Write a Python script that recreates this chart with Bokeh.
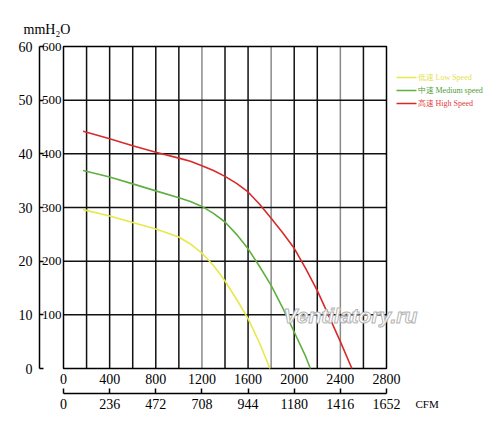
from bokeh.plotting import figure
from bokeh.models import (LinearAxis, FixedTicker, Label, Arrow, Range1d)
from bokeh.embed import file_html
from bokeh.resources import INLINE

# ---- data ----
high_cfm = [170, 400, 600, 800, 1000, 1100, 1200, 1300, 1400, 1500, 1600, 1700, 1800, 1900, 2000, 2100, 2200, 2300, 2400, 2500]
high_p   = [442, 428, 415, 403, 392, 386, 378, 369, 358, 345, 329, 306, 280, 253, 224, 186, 145, 98, 50, 0]

med_cfm = [170, 400, 600, 800, 1000, 1100, 1200, 1300, 1400, 1500, 1600, 1700, 1800, 1900, 2000, 2100, 2140]
med_p   = [369, 357, 344, 331, 318, 311, 302, 289, 273, 250, 223, 190, 155, 113, 68, 22, 0]

low_cfm = [170, 400, 600, 800, 1000, 1100, 1200, 1300, 1350, 1400, 1500, 1600, 1700, 1790]
low_p   = [296, 284, 272, 260, 245, 232, 215, 192, 178, 163, 129, 93, 47, 0]

cfm_ticks = [0, 400, 800, 1200, 1600, 2000, 2400, 2800]
m3h_labels = ["0", "236", "472", "708", "944", "1180", "1416", "1652"]
pa_ticks = [100, 200, 300, 400, 500, 600]
mm_ticks = [0, 100, 200, 300, 400, 500, 600]
mm_labels = ["0", "10", "20", "30", "40", "50", "60"]
grid_black_x = [200, 400, 600, 800, 1000, 1400, 1600, 2000, 2200, 2600]
grid_gray_x = [1200, 1800, 2400]
grid_y = [100, 200, 300, 400, 500]
x_max, y_max = 2800, 600

series_names = ["低速 Low Speed", "中速 Medium speed", "高速 High Speed"]
series_colors = ["#e8e84a", "#5fb040", "#d82a2a"]
text_colors = ["#e2e24a", "#4f9e34", "#e03a3a"]

FONT = "Liberation Serif"

# ---- layout helpers (canvas pixel -> data coordinate) ----
W, H = 484, 415
X0PX, Y0PX = 63, 368                       # where 0/0 sits on the canvas
KX = 323 / 2800.0                          # px per CFM
KY = 322 / 600.0                           # px per Pa


def X(px):
    return (px - X0PX) / KX


def Y(py):
    return (Y0PX - py) / KY


p = figure(width=W, height=H, output_backend="svg", toolbar_location=None,
           x_range=Range1d(X(0), X(W)), y_range=Range1d(Y(H), Y(0)),
           x_axis_location=None, y_axis_location=None,
           min_border_left=0, min_border_right=0, min_border_top=0, min_border_bottom=0)
p.outline_line_color = None
p.background_fill_color = "white"
p.border_fill_color = "white"
p.xgrid.visible = False
p.ygrid.visible = False

# grid and chart box
p.segment(x0=grid_black_x, x1=grid_black_x, y0=0, y1=y_max, line_color="#111111", line_width=1.5)
p.segment(x0=grid_gray_x, x1=grid_gray_x, y0=0, y1=y_max, line_color="#8a8a8a", line_width=1.5)
p.segment(x0=0, x1=x_max, y0=grid_y, y1=grid_y, line_color="#111111", line_width=1.5)
p.quad(left=0, right=x_max, bottom=0, top=y_max, fill_color=None, line_color="black", line_width=1.5)

# curves
p.line(low_cfm, low_p, line_color=series_colors[0], line_width=1.6, line_join="round")
p.line(med_cfm, med_p, line_color=series_colors[1], line_width=1.6, line_join="round")
p.line(high_cfm, high_p, line_color=series_colors[2], line_width=1.6, line_join="round")

# left axes (Pa inside, mmH2O outside)
axA = LinearAxis(ticker=FixedTicker(ticks=pa_ticks), fixed_location=0,
                 axis_line_color=None, major_tick_line_color=None, minor_tick_line_color=None,
                 major_tick_in=0, major_tick_out=0,
                 major_label_standoff=2, major_label_text_font=FONT,
                 major_label_text_font_size="13px", major_label_text_color="black")
axB = LinearAxis(ticker=FixedTicker(ticks=mm_ticks), fixed_location=X(39), bounds=(0, y_max),
                 major_label_overrides={t: l for t, l in zip(mm_ticks, mm_labels)},
                 axis_line_color="black", axis_line_width=1.5,
                 major_tick_line_color="black", major_tick_line_width=1.5,
                 major_tick_in=4, major_tick_out=0, minor_tick_line_color=None,
                 major_label_standoff=7, major_label_text_font=FONT,
                 major_label_text_font_size="14px", major_label_text_color="black")
p.add_layout(axA, "left")
p.add_layout(axB, "left")

# bottom axes (CFM scale above, m3/h scale below)
axC = LinearAxis(ticker=FixedTicker(ticks=cfm_ticks), fixed_location=0,
                 axis_line_color=None, major_tick_line_color=None, minor_tick_line_color=None,
                 major_tick_in=0, major_tick_out=0,
                 major_label_standoff=5, major_label_text_font=FONT,
                 major_label_text_font_size="14px", major_label_text_color="black")
axD = LinearAxis(ticker=FixedTicker(ticks=cfm_ticks), fixed_location=Y(393), bounds=(0, x_max),
                 major_label_overrides={t: l for t, l in zip(cfm_ticks, m3h_labels)},
                 axis_line_color="black", axis_line_width=1.5,
                 major_tick_line_color="black", major_tick_line_width=1.5,
                 major_tick_in=5, major_tick_out=0, minor_tick_line_color=None,
                 major_label_standoff=5, major_label_text_font=FONT,
                 major_label_text_font_size="14px", major_label_text_color="black")
p.add_layout(axC, "below")
p.add_layout(axD, "below")

# unit labels
p.add_layout(Label(x=X(23), y=Y(29), text="mmH₂O", text_font=FONT, text_font_size="14px",
                   text_baseline="alphabetic", text_color="black"))
p.add_layout(Label(x=X(415), y=Y(403), text="CFM", text_font=FONT, text_font_size="11px",
                   text_baseline="middle", text_color="black"))

# legend (manual, coloured text)
leg_y = [77, 90, 103]
for name, lc, tc, yy in zip(series_names, series_colors, text_colors, leg_y):
    p.add_layout(Arrow(start=None, end=None, x_start=X(396), y_start=Y(yy), x_end=X(416), y_end=Y(yy),
                       line_color=lc, line_width=1.3))
    p.add_layout(Label(x=X(417), y=Y(yy), text=name, text_font=FONT, text_font_size="8px",
                       text_baseline="middle", text_color=tc))

# watermark
p.add_layout(Label(x=X(283), y=Y(315), text="Ventilatory.ru", text_font="Liberation Sans",
                   text_font_size="21px", text_font_style="bold italic",
                   text_baseline="middle", text_color="white",
                   text_outline_color="#b4b4b4"))

open("out.html", "w").write(file_html(p, INLINE))
